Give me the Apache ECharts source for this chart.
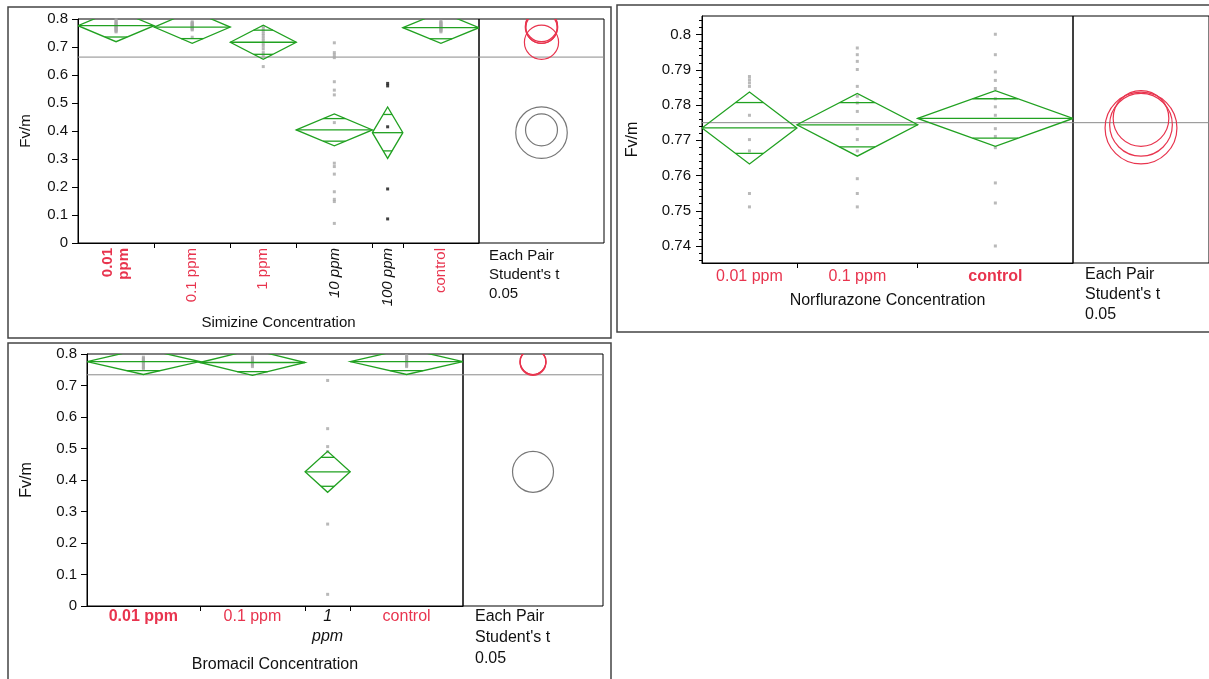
<!DOCTYPE html>
<html>
<head>
<meta charset="utf-8">
<title>Fv/m by herbicide concentration</title>
<script src="https://cdn.jsdelivr.net/npm/echarts@6/dist/echarts.min.js"></script>
<style>
  html, body { margin: 0; padding: 0; background: #fff; }
  #chart { width: 1209px; height: 679px; }
</style>
</head>
<body>
<div id="chart"></div>
<script>
// ---- Simizine ----
var simCats = ['0.01\nppm', '0.1 ppm', '1 ppm', '10 ppm', '100 ppm', 'control'];
var simN = [15, 15, 13, 15, 6, 15];            // group sizes (diamond widths)
var simMean = [0.776, 0.771, 0.717, 0.404, 0.394, 0.769];
var simCI = [0.057, 0.058, 0.061, 0.057, 0.092, 0.056];
var simSame = [1, 1, 1, 0, 0, 1];               // not different from selected level
var simSel = 0;
var simDark = [0, 0, 0, 0, 1, 0];               // points drawn black
var simGrand = 0.664;
var simTicks = [0, 0.1, 0.2, 0.3, 0.4, 0.5, 0.6, 0.7, 0.8];
var simPoints = [
  [0.797, 0.792, 0.788, 0.784, 0.781, 0.778, 0.775, 0.772, 0.769, 0.766, 0.763, 0.760, 0.757, 0.754],
  [0.790, 0.787, 0.784, 0.781, 0.779, 0.776, 0.773, 0.770, 0.767, 0.764, 0.761, 0.735],
  [0.773, 0.765, 0.757, 0.748, 0.740, 0.731, 0.722, 0.712, 0.703, 0.693, 0.680, 0.668, 0.630],
  [0.715, 0.680, 0.671, 0.662, 0.576, 0.546, 0.529, 0.430, 0.285, 0.273, 0.246, 0.183, 0.156, 0.148, 0.070],
  [0.570, 0.561, 0.415, 0.193, 0.086],
  [0.792, 0.788, 0.785, 0.782, 0.779, 0.776, 0.773, 0.770, 0.767, 0.764, 0.761, 0.758, 0.754]
];

// ---- Norflurazone ----
var norCats = ['0.01 ppm', '0.1 ppm', 'control'];
var norN = [11, 14, 18];
var norMean = [0.7735, 0.7744, 0.7762];
var norCI = [0.0102, 0.0089, 0.0079];
var norSame = [1, 1, 1];
var norSel = 2;
var norDark = [0, 0, 0];
var norGrand = 0.775;
var norTicks = [0.74, 0.75, 0.76, 0.77, 0.78, 0.79, 0.8];
var norPoints = [
  [0.7881, 0.7872, 0.7863, 0.7853, 0.7771, 0.7702, 0.7670, 0.7549, 0.7511],
  [0.7962, 0.7943, 0.7924, 0.7901, 0.7853, 0.7825, 0.7806, 0.7782, 0.7733, 0.7702, 0.7670, 0.7591, 0.7549, 0.7511],
  [0.8001, 0.7943, 0.7894, 0.7870, 0.7847, 0.7818, 0.7795, 0.7771, 0.7733, 0.7711, 0.7679, 0.7579, 0.7522, 0.7400]
];

// ---- Bromacil ----
var broCats = ['0.01 ppm', '0.1 ppm', '1\nppm', 'control'];
var broN = [15, 14, 6, 15];
var broMean = [0.776, 0.773, 0.426, 0.776];
var broCI = [0.041, 0.041, 0.065, 0.041];
var broSame = [1, 1, 0, 1];
var broSel = 0;
var broDark = [0, 0, 0, 0];
var broGrand = 0.734;
var broTicks = [0, 0.1, 0.2, 0.3, 0.4, 0.5, 0.6, 0.7, 0.8];
var broPoints = [
  [0.790, 0.786, 0.782, 0.778, 0.774, 0.770, 0.766, 0.761, 0.757, 0.753],
  [0.790, 0.786, 0.782, 0.778, 0.774, 0.770, 0.765, 0.760],
  [0.716, 0.563, 0.506, 0.490, 0.260, 0.037],
  [0.795, 0.791, 0.787, 0.783, 0.779, 0.775, 0.771, 0.767, 0.763, 0.760]
];

var FONT = 'Liberation Sans, Arial, Helvetica, sans-serif';
var RED = '#e8344e';
var GREEN = '#21a121';
var CIRCLE_GRAY = '#777';
var PT_GRAY = '#a8a8a8';
var MEAN_GRAY = '#8a8a8a';

var option = {
  animation: false,
  backgroundColor: '#fff',
  grid: [], xAxis: [], yAxis: [], series: [],
  graphic: []
};

function cumulative(arr) {
  var b = [0];
  arr.forEach(function (v) { b.push(b[b.length - 1] + v); });
  return b;
}

function richFor(size, lh) {
  return {
    sel: { color: RED, fontWeight: 'bold', fontSize: size, fontFamily: FONT, lineHeight: lh },
    same: { color: RED, fontSize: size, fontFamily: FONT, lineHeight: lh },
    diff: { color: '#111', fontStyle: 'italic', fontSize: size, fontFamily: FONT, lineHeight: lh }
  };
}

// means diamond + overlap marks
function diamondItem(params, api) {
  var L = api.value(0), R = api.value(1), m = api.value(2), ci = api.value(3);
  var C = (L + R) / 2;
  var k = (C - L) * (1 - Math.SQRT1_2);
  var d = ci * Math.SQRT1_2;
  var style = { stroke: GREEN, fill: null, lineWidth: 1.3 };
  function seg(x1, x2, y) {
    var a = api.coord([x1, y]), b = api.coord([x2, y]);
    return { type: 'line', shape: { x1: a[0], y1: a[1], x2: b[0], y2: b[1] }, style: style };
  }
  return {
    type: 'group',
    children: [
      { type: 'polygon', shape: { points: [api.coord([L, m]), api.coord([C, m + ci]), api.coord([R, m]), api.coord([C, m - ci])] }, style: style },
      seg(L, R, m),
      seg(C - k, C + k, m + d),
      seg(C - k, C + k, m - d)
    ]
  };
}

// comparison circles
function circleItem(params, api) {
  var c = api.coord([api.value(0), api.value(1)]);
  var r = api.size([0, api.value(2)])[1];
  return {
    type: 'circle',
    shape: { cx: c[0], cy: c[1], r: r },
    style: { stroke: api.value(3) ? RED : CIRCLE_GRAY, fill: null, lineWidth: 1.2 }
  };
}

function addPanel(p) {
  var gi = option.grid.length;
  var b = cumulative(p.n), total = b[b.length - 1];
  var cent = p.n.map(function (v, i) { return (b[i] + b[i + 1]) / 2; });

  option.grid.push({ left: p.left, top: p.top, width: p.mainW, height: p.h, show: true, borderColor: '#000', borderWidth: 1 });
  option.grid.push({ left: p.left + p.mainW, top: p.top, width: p.circW, height: p.h, show: true, borderColor: '#000', borderWidth: 1 });

  var xi = option.xAxis.length;
  option.xAxis.push({
    gridIndex: gi, type: 'value', min: 0, max: total,
    name: p.xName, nameLocation: 'middle', nameGap: p.xNameGap,
    nameTextStyle: { color: '#111', fontSize: p.font, fontFamily: FONT },
    axisLine: { show: true, lineStyle: { color: '#000', width: 1 } },
    axisTick: { show: true, customValues: b.slice(1, -1), length: 5, lineStyle: { color: '#000' } },
    splitLine: { show: false },
    axisLabel: {
      customValues: cent,
      rotate: p.rotate,
      margin: p.labelMargin,
      rich: richFor(p.font, p.labelLH),
      formatter: function (v) {
        var i = -1;
        cent.forEach(function (c, j) { if (Math.abs(c - v) < 1e-6) i = j; });
        if (i < 0) return '';
        var key = i === p.sel ? 'sel' : (p.same[i] ? 'same' : 'diff');
        return p.cats[i].split('\n').map(function (s) { return '{' + key + '|' + s + '}'; }).join('\n');
      }
    }
  });
  option.xAxis.push({ gridIndex: gi + 1, type: 'value', min: 0, max: 1, show: false });

  var yi = option.yAxis.length;
  option.yAxis.push({
    gridIndex: gi, type: 'value', min: p.yMin, max: p.yMax, position: 'left',
    name: 'Fv/m', nameLocation: 'middle', nameGap: p.yNameGap, nameRotate: 90,
    nameTextStyle: { color: '#111', fontSize: p.font, fontFamily: FONT },
    axisLine: { show: true, lineStyle: { color: '#000', width: 1 } },
    axisTick: { show: true, customValues: p.ticks, length: 6, lineStyle: { color: '#000' } },
    splitLine: { show: false },
    axisLabel: {
      customValues: p.ticks, margin: p.yLabelMargin, color: '#111',
      fontSize: 15, fontFamily: FONT,
      formatter: function (v) { return String(+v.toFixed(3)); }
    }
  });
  option.yAxis.push({ gridIndex: gi + 1, type: 'value', min: p.yMin, max: p.yMax, show: false });
  if (p.minor) {
    option.yAxis.push({
      gridIndex: gi, type: 'value', min: p.yMin, max: p.yMax, position: 'left',
      axisLine: { show: false }, axisLabel: { show: false }, splitLine: { show: false },
      axisTick: { show: true, customValues: p.minor, length: 3, lineStyle: { color: '#000' } }
    });
  }

  // raw observations
  var pts = [];
  p.points.forEach(function (list, i) {
    list.forEach(function (v) { pts.push([cent[i], v, p.dark[i]]); });
  });
  option.series.push({
    type: 'scatter', xAxisIndex: xi, yAxisIndex: yi, data: pts, silent: true, z: 2,
    symbol: 'rect', symbolSize: [3, 3],
    itemStyle: { color: function (q) { return q.data[2] ? '#111' : PT_GRAY; } }
  });

  // grand mean, through both frames
  option.series.push({
    type: 'line', xAxisIndex: xi, yAxisIndex: yi, data: [[0, p.grand], [total, p.grand]],
    symbol: 'none', silent: true, z: 1, lineStyle: { color: MEAN_GRAY, width: 1 }
  });
  option.series.push({
    type: 'line', xAxisIndex: xi + 1, yAxisIndex: yi + 1, data: [[0, p.grand], [1, p.grand]],
    symbol: 'none', silent: true, z: 1, lineStyle: { color: MEAN_GRAY, width: 1 }
  });

  // means diamonds
  option.series.push({
    type: 'custom', xAxisIndex: xi, yAxisIndex: yi, clip: true, silent: true, z: 3,
    renderItem: diamondItem,
    data: p.mean.map(function (m, i) { return [b[i], b[i + 1], m, p.ci[i]]; })
  });

  // comparison circles
  option.series.push({
    type: 'custom', xAxisIndex: xi + 1, yAxisIndex: yi + 1, clip: true, silent: true, z: 3,
    renderItem: circleItem,
    data: p.mean.map(function (m, i) { return [0.5, m, p.ci[i], p.same[i]]; })
  });
}

var norMinor = [];
[0.73].concat(norTicks).forEach(function (t) {
  for (var k = 1; k <= 4; k++) norMinor.push(t + k * 0.002);
});

addPanel({
  cats: simCats, n: simN, mean: simMean, ci: simCI, same: simSame, sel: simSel, dark: simDark,
  grand: simGrand, ticks: simTicks, points: simPoints,
  left: 78, top: 19, mainW: 401, circW: 125, h: 224, yMin: 0, yMax: 0.8,
  xName: 'Simizine Concentration', xNameGap: 72, yNameGap: 45, yLabelMargin: 10,
  font: 15, rotate: 90, labelMargin: 5, labelLH: 16
});
addPanel({
  cats: norCats, n: norN, mean: norMean, ci: norCI, same: norSame, sel: norSel, dark: norDark,
  grand: norGrand, ticks: norTicks, points: norPoints, minor: norMinor,
  left: 702, top: 16, mainW: 371, circW: 140, h: 247, yMin: 0.73517, yMax: 0.80528,
  xName: 'Norflurazone Concentration', xNameGap: 30, yNameGap: 61, yLabelMargin: 11,
  font: 16, rotate: 0, labelMargin: 4, labelLH: 20
});
addPanel({
  cats: broCats, n: broN, mean: broMean, ci: broCI, same: broSame, sel: broSel, dark: broDark,
  grand: broGrand, ticks: broTicks, points: broPoints,
  left: 87, top: 354, mainW: 376, circW: 140, h: 252, yMin: 0, yMax: 0.8,
  xName: 'Bromacil Concentration', xNameGap: 51, yNameGap: 52, yLabelMargin: 10,
  font: 16, rotate: 0, labelMargin: 1, labelLH: 20
});

// report frames and comparison-test captions
option.graphic = [
  { type: 'rect', silent: true, shape: { x: 8, y: 7, width: 603, height: 331 }, style: { fill: null, stroke: '#444', lineWidth: 1.5 } },
  { type: 'rect', silent: true, shape: { x: 617, y: 5, width: 600, height: 327 }, style: { fill: null, stroke: '#444', lineWidth: 1.5 } },
  { type: 'rect', silent: true, shape: { x: 8, y: 343, width: 603, height: 345 }, style: { fill: null, stroke: '#444', lineWidth: 1.5 } },
  { type: 'text', left: 489, top: 246, style: { text: "Each Pair\nStudent's t\n0.05", font: '15px ' + FONT, lineHeight: 19, fill: '#111' } },
  { type: 'text', left: 1085, top: 265, style: { text: "Each Pair\nStudent's t\n0.05", font: '16px ' + FONT, lineHeight: 20, fill: '#111' } },
  { type: 'text', left: 475, top: 606, style: { text: "Each Pair\nStudent's t\n0.05", font: '16px ' + FONT, lineHeight: 21, fill: '#111' } }
];

var chart = echarts.init(document.getElementById('chart'));
chart.setOption(option);
window.addEventListener('resize', function () { chart.resize(); });
</script>
</body>
</html>
